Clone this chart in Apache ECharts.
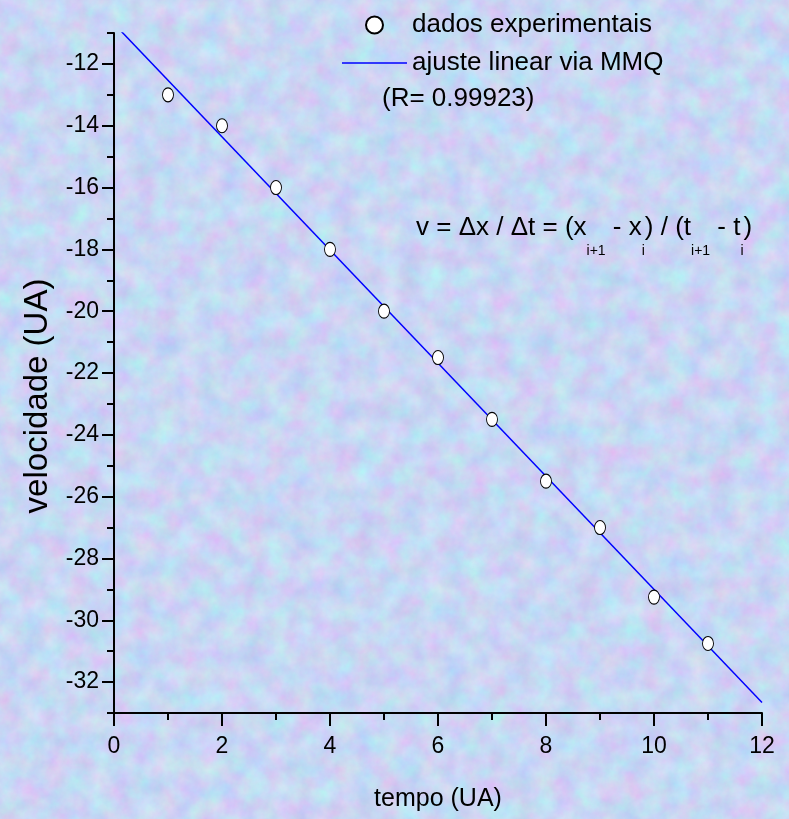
<!DOCTYPE html>
<html>
<head>
<meta charset="utf-8">
<script src="https://cdn.jsdelivr.net/npm/echarts@6/dist/echarts.min.js"></script>
<style>
html,body{margin:0;padding:0;width:789px;height:819px;overflow:hidden;background-color:#c9d6f2;}
#chart{width:789px;height:819px;}
</style>
</head>
<body>
<div id="chart"></div>
<script>
// ---- data ----
const tempo = [1, 2, 3, 4, 5, 6, 7, 8, 9, 10, 11];
const velocidade = [-13, -14, -16, -18, -20, -21.5, -23.5, -25.5, -27, -29.25, -30.75];
const ajusteT = [0, 12];
const ajusteV = [-10.70, -32.66];
const yMajorTicks = [-32, -30, -28, -26, -24, -22, -20, -18, -16, -14, -12];
const yMinorTicks = [-33, -31, -29, -27, -25, -23, -21, -19, -17, -15, -13, -11];
const legendNames = ['dados experimentais', 'ajuste linear via MMQ'];
const rText = '(R= 0.99923)';

// ---- textured background ----
const svg = "<svg xmlns='http://www.w3.org/2000/svg' width='789' height='819'>" +
  "<filter id='n' color-interpolation-filters='sRGB'>" +
  "<feTurbulence type='fractalNoise' baseFrequency='0.045' numOctaves='5' seed='7'/>" +
  "<feColorMatrix type='matrix' values='0.24 0 0 0 0.665  -0.1 0.2 0 0 0.79  0 0 0.08 0 0.915  0 0 0 0 1'/>" +
  "</filter><rect width='100%' height='100%' filter='url(#n)'/></svg>";
document.body.style.backgroundImage = 'url("data:image/svg+xml,' + encodeURIComponent(svg) + '")';

const FONT = '"Liberation Sans", Arial, sans-serif';
const chart = echarts.init(document.getElementById('chart'), null, {renderer: 'canvas'});

const scatterData = tempo.map((t, i) => [t, velocidade[i]]);
const fitData = ajusteT.map((t, i) => [t, ajusteV[i]]);

chart.setOption({
  backgroundColor: 'transparent',
  animation: false,
  textStyle: {fontFamily: FONT, color: '#000'},
  grid: {left: 114, right: 27, top: 33, bottom: 106, containLabel: false},
  legend: {
    orient: 'vertical',
    left: 337,
    top: 5,
    itemWidth: 65,
    itemHeight: 17,
    itemGap: 8,
    textStyle: {fontFamily: FONT, fontSize: 26, color: '#000', lineHeight: 30},
    data: [
      {name: legendNames[0], icon: 'circle'},
      {name: legendNames[1], icon: 'path://M0,0H65V1.5H0Z'}
    ]
  },
  xAxis: {
    type: 'value',
    min: 0, max: 12, interval: 2,
    name: 'tempo (UA)',
    nameLocation: 'middle',
    nameGap: 74,
    nameTextStyle: {fontFamily: FONT, fontSize: 25, color: '#000'},
    axisLine: {show: true, onZero: false, lineStyle: {color: '#000', width: 2}},
    axisTick: {show: true, length: 13, lineStyle: {color: '#000', width: 2}},
    minorTick: {show: true, splitNumber: 2, length: 7, lineStyle: {color: '#000', width: 2}},
    axisLabel: {fontFamily: FONT, fontSize: 23, color: '#000', margin: 22},
    splitLine: {show: false}
  },
  yAxis: [{
    type: 'value',
    min: -33, max: -11,
    name: 'velocidade (UA)',
    nameLocation: 'middle',
    nameGap: 57,
    nameRotate: 90,
    nameTextStyle: {fontFamily: FONT, fontSize: 33, color: '#000', padding: [0, 46, 0, 0]},
    axisLine: {show: true, onZero: false, lineStyle: {color: '#000', width: 2}},
    axisTick: {show: true, length: 12, customValues: yMajorTicks, lineStyle: {color: '#000', width: 2}},
    axisLabel: {fontFamily: FONT, fontSize: 23, color: '#000', margin: 15, customValues: yMajorTicks},
    splitLine: {show: false}
  }, {
    type: 'value',
    position: 'left',
    min: -33, max: -11,
    axisLine: {show: false},
    axisTick: {show: true, length: 7, customValues: yMinorTicks, lineStyle: {color: '#000', width: 2}},
    axisLabel: {show: false},
    splitLine: {show: false}
  }],
  graphic: [{
    type: 'text',
    left: 382, top: 86,
    style: {text: rText, font: '26px ' + FONT, fill: '#000'}
  }, {
    type: 'text',
    left: 416, top: 215,
    style: {
      text: '{m|v = Δx / Δt = (x}{s|i+1}{m| - x}{s|i}{m|) / (t}{s|i+1}{m| - t}{s|i}{m|)}',
      fill: '#000',
      rich: {
        m: {fontFamily: FONT, fontSize: 26, lineHeight: 30, verticalAlign: 'top', fill: '#000'},
        s: {fontFamily: FONT, fontSize: 14, lineHeight: 14, verticalAlign: 'top', padding: [29, 0, 0, 0], fill: '#000'}
      }
    }
  }],
  series: [{
    name: legendNames[0],
    type: 'scatter',
    data: scatterData,
    symbol: 'circle',
    symbolSize: [11, 14],
    itemStyle: {color: '#fff', borderColor: '#000', borderWidth: 1, opacity: 1},
    z: 3
  }, {
    name: legendNames[1],
    type: 'line',
    data: fitData,
    symbol: 'none',
    clip: true,
    lineStyle: {color: '#0000ff', width: 1.5},
    itemStyle: {color: '#0000ff'},
    z: 2
  }]
});
</script>
</body>
</html>
